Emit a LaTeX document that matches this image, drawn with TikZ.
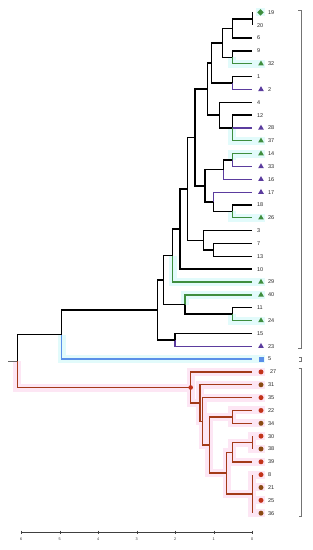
\documentclass[tikz,border=0pt]{standalone}
\usepackage{fontspec}
\setmainfont{Liberation Sans}
\usetikzlibrary{positioning, shapes.geometric, backgrounds}
\definecolor{grn}{HTML}{3E8E3E}
\definecolor{prp}{HTML}{5B3C9E}
\definecolor{blu}{HTML}{5A8FE8}
\definecolor{rbr}{HTML}{A33A18}
\definecolor{dotred}{HTML}{C2331A}
\definecolor{dotbrn}{HTML}{8A4A12}
\definecolor{cyanhalo}{HTML}{E2FBFB}
\definecolor{pinkhalo}{HTML}{FDE6F4}
\tikzset{
  branch/.style={line width=1.5pt, black},
  gbranch/.style={line width=1.3pt, grn},
  pbranch/.style={line width=1.3pt, prp},
  bbranch/.style={line width=1.3pt, blu},
  rbranch/.style={line width=1.4pt, rbr},
  chalo/.style={line width=8pt, cyanhalo, shorten >=-1.5pt},
  phalo/.style={line width=8pt, pinkhalo, shorten >=-1.5pt},
  lbl/.style={inner sep=0pt, font=\fontsize{5.5}{6}\selectfont, text=black!85},
  ticklbl/.style={inner sep=0pt, font=\fontsize{3.8}{4}\selectfont, text=black!80},
  axisline/.style={line width=0.5pt, black!75},
  bracket/.style={line width=0.6pt, black!55},
  gtri/.style={regular polygon, regular polygon sides=3, fill=grn, inner sep=0pt, minimum size=6.5pt},
  ptri/.style={regular polygon, regular polygon sides=3, fill=prp, inner sep=0pt, minimum size=6.5pt},
  gdiam/.style={diamond, fill=grn, inner sep=0pt, minimum size=6.5pt},
  bsq/.style={rectangle, fill=blu, inner sep=0pt, minimum size=5pt},
  rdot/.style={circle, fill=dotred, inner sep=0pt, minimum size=5pt},
  bdot/.style={circle, fill=dotbrn, inner sep=0pt, minimum size=5pt},
}

\begin{document}
\begin{tikzpicture}[x=1pt, y=-1pt]
        \useasboundingbox (0,0) rectangle (313,550);

        % Leaves
        \foreach \lab [count=\i from 0] in {19,20,6,9,32,1,2,4,12,28,37,14,33,16,17,18,26,3,7,13,10,29,40,11,24,15,23,5,27,31,35,22,34,30,38,39,8,21,25,36}
          \coordinate (l\lab) at (252.3,{12.4+12.84*\i});

        % Leaf labels
        \foreach \lab in {20,6,9,1,4,12,18,3,7,13,10,11,15}
          \node[lbl, right=4.5pt of l\lab] (t\lab) {\lab};
        \foreach \lab in {19,32,2,28,37,14,33,16,17,26,29,40,24,23,5,31,35,22,34,30,38,39,8,21,25,36}
          \node[lbl, right=15.5pt of l\lab] (t\lab) {\lab};
        \node[lbl, right=17.5pt of l27] (t27) {27};

        % Symbols
        \node[gdiam] (s19) at ([xshift=8.2pt]l19) {};
        \foreach \lab in {32,37,14,26,29,40,24}
          \node[gtri] (s\lab) at ([xshift=8.7pt]l\lab) {};
        \foreach \lab in {2,28,33,16,17,23}
          \node[ptri] (s\lab) at ([xshift=8.7pt]l\lab) {};
        \node[bsq] (s5) at ([xshift=8.7pt]l5) {};
        \foreach \lab in {27,35,22,30,39,8,25}
          \node[rdot] (s\lab) at ([xshift=8.7pt]l\lab) {};
        \foreach \lab in {31,34,38,21,36}
          \node[bdot] (s\lab) at ([xshift=8.7pt]l\lab) {};

        % Upper cluster
        \coordinate (n1920) at (252.3,18.8);
        \coordinate (n6) at (232.3,28.45);
        \coordinate (n932) at (232.3,57.35);
        \coordinate (nA) at (222.7,42.9);
        \coordinate (n12) at (232.3,83);
        \coordinate (nB) at (211.7,62.95);
        \coordinate (nE) at (232.3,127.95);
        \coordinate (nF) at (219.3,115.1);
        \coordinate (nC) at (207.3,89.0);
        \coordinate (n1433) at (232.3,160.05);
        \coordinate (nH) at (223.3,169.7);
        \coordinate (n1826) at (232.3,211.4);
        \coordinate (nI) at (213.3,201.8);
        \coordinate (nG) at (205,185.75);
        \coordinate (nD) at (195,137.4);
        \coordinate (n713) at (213.3,249.95);
        \coordinate (nK) at (203.3,240.3);
        \coordinate (nJ) at (187.7,188.9);
        \coordinate (nM) at (180,229);
        \coordinate (nN) at (172.7,255.5);
        \coordinate (n1124) at (232.3,314.15);
        \coordinate (nP) at (185,304.5);
        \coordinate (nO) at (163.3,280);
        \coordinate (n1523) at (175,339.8);
        \coordinate (nR) at (157.3,309.9);
        \coordinate (nT) at (61.7,334.5);

        % Lower cluster
        \coordinate (n3038) at (252.3,442.55);
        \coordinate (nRb) at (232.3,452.2);
        \coordinate (nRc) at (252.3,493.9);
        \coordinate (nRd) at (226.7,473);
        \coordinate (nRe) at (232.3,416.85);
        \coordinate (nRf) at (209.3,444.9);
        \coordinate (nRg) at (202.7,421.3);
        \coordinate (nRh) at (200,403);
        \coordinate (nRi) at (190.7,387.5);

        % Root
        \coordinate (root) at (17.3,361);
        \coordinate (stub) at (8,361);

        % Highlights
        \begin{pgfonlayer}{background}
          \draw[chalo, shorten <=-1.5pt] (s19.west) -- (s19.east);
          \draw[chalo] (n932) |- (s32.east);
          \draw[chalo] (nE) |- (s37.east);
          \draw[chalo] (n1433) |- (s14.east);
          \draw[chalo] (n1826) |- (s26.east);
          \draw[chalo] (nN) |- (s29.east);
          \draw[chalo] (nP) |- (s40.east);
          \draw[chalo] (n1124) |- (s24.east);
          \draw[chalo] (nT) |- (s5.east);
          \draw[phalo] (root) |- (nRi);
          \draw[phalo] (nRi) |- (s27.east);
          \draw[phalo] (nRi) |- (nRh);
          \draw[phalo] (nRh) |- (s31.east);
          \draw[phalo] (nRh) |- (nRg);
          \draw[phalo] (nRg) |- (s35.east);
          \draw[phalo] (nRg) |- (nRf);
          \draw[phalo] (nRf) |- (nRe);
          \draw[phalo] (nRe) |- (s22.east);
          \draw[phalo] (nRe) |- (s34.east);
          \draw[phalo] (nRf) |- (nRd);
          \draw[phalo] (nRd) |- (nRb);
          \draw[phalo] (nRb) |- (n3038);
          \draw[phalo] (n3038) |- (s30.east);
          \draw[phalo] (n3038) |- (s38.east);
          \draw[phalo] (nRb) |- (s39.east);
          \draw[phalo] (nRd) |- (nRc);
          \draw[phalo] (nRc) |- (s8.east);
          \draw[phalo] (nRc) |- (s21.east);
          \draw[phalo] (nRc) |- (s25.east);
          \draw[phalo] (nRc) |- (s36.east);
        \end{pgfonlayer}

        % Branches
        \draw[branch] (n1920) |- (l19) (n1920) |- (l20);
        \draw[branch] (n6) |- (n1920) (n6) |- (l6);
        \draw[branch] (n932) |- (l9);
        \draw[gbranch] (n932) |- (l32);
        \draw[branch] (nA) |- (n6) (nA) |- (n932);
        \draw[branch] (n12) |- (l1);
        \draw[pbranch] (n12) |- (l2);
        \draw[branch] (nB) |- (nA) (nB) |- (n12);
        \draw[branch] (nE) |- (l12);
        \draw[pbranch] (nE) |- (l28);
        \draw[gbranch] (nE) |- (l37);
        \draw[branch] (nF) |- (l4) (nF) |- (nE);
        \draw[branch] (nC) |- (nB) (nC) |- (nF);
        \draw[gbranch] (n1433) |- (l14);
        \draw[pbranch] (n1433) |- (l33);
        \draw[branch] (nH) |- (n1433);
        \draw[pbranch] (nH) |- (l16);
        \draw[branch] (n1826) |- (l18);
        \draw[gbranch] (n1826) |- (l26);
        \draw[pbranch] (nI) |- (l17);
        \draw[branch] (nI) |- (n1826);
        \draw[branch] (nG) |- (nH) (nG) |- (nI);
        \draw[branch] (nD) |- (nC) (nD) |- (nG);
        \draw[branch] (n713) |- (l7) (n713) |- (l13);
        \draw[branch] (nK) |- (l3) (nK) |- (n713);
        \draw[branch] (nJ) |- (nD) (nJ) |- (nK);
        \draw[branch] (nM) |- (nJ) (nM) |- (l10);
        \draw[branch] (nN) |- (nM);
        \draw[gbranch] (nN) |- (l29);
        \draw[branch] (n1124) |- (l11);
        \draw[gbranch] (n1124) |- (l24);
        \draw[gbranch] (nP) |- (l40);
        \draw[branch] (nP) |- (n1124);
        \draw[branch] (nO) |- (nN) (nO) |- (nP);
        \draw[branch] (n1523) |- (l15);
        \draw[pbranch] (n1523) |- (l23);
        \draw[branch] (nR) |- (nO) (nR) |- (n1523);
        \draw[branch] (nT) |- (nR);
        \draw[bbranch] (nT) |- (l5);
        \draw[branch] (root) |- (nT);

        \draw[rbranch] (root) |- (nRi);
        \draw[rbranch] (nRi) |- (l27) (nRi) |- (nRh);
        \draw[rbranch] (nRh) |- (l31) (nRh) |- (nRg);
        \draw[rbranch] (nRg) |- (l35) (nRg) |- (nRf);
        \draw[rbranch] (nRf) |- (nRe) (nRf) |- (nRd);
        \draw[rbranch] (nRe) |- (l22) (nRe) |- (l34);
        \draw[rbranch] (nRd) |- (nRb) (nRd) |- (nRc);
        \draw[rbranch] (nRb) |- (n3038) (nRb) |- (l39);
        \draw[rbranch] (n3038) |- (l30) (n3038) |- (l38);
        \draw[rbranch] (nRc) |- (l8) (nRc) |- (l21) (nRc) |- (l25) (nRc) |- (l36);
        \node[rdot, minimum size=4.6pt] (dRi) at (nRi) {};

        \draw[line width=0.6pt, black!60] (stub) -- (root);

        % Brackets
        \draw[bracket] (298.3,10) -- (301.7,10) -- (301.7,348.5) -- (298.3,348.5);
        \draw[bracket] (299,357) -- (301.7,357) -- (301.7,361) -- (299,361);
        \draw[bracket] (298.6,368.5) -- (301.7,368.5) -- (301.7,516) -- (298.6,516);

        % Axis
        \draw[axisline] (21.3,532.3) -- (252.3,532.3);
        \foreach \h in {0,...,6} {
          \draw[axisline] ({252.3-38.5*\h},530.6) -- ++(0,3.4);
          \node[ticklbl] (a\h) at ({252.3-38.5*\h},539) {\h};
        }
\end{tikzpicture}
\end{document}
